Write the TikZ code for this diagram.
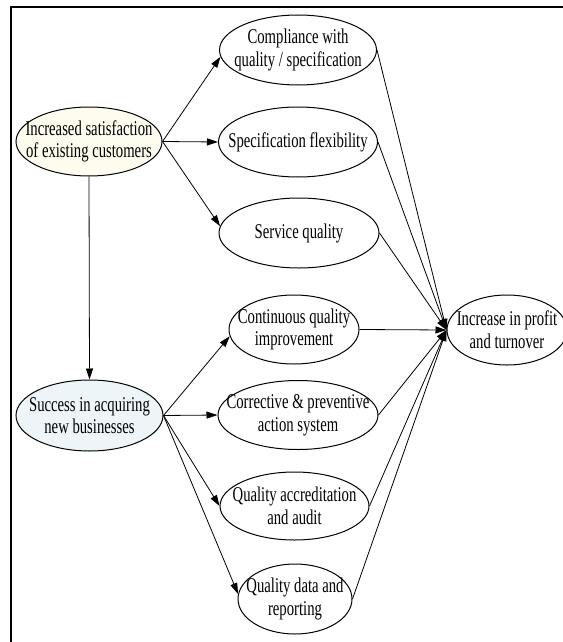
\documentclass[tikz,border=0pt]{standalone}
\usepackage{fontspec}
\setmainfont{Liberation Serif}[FakeStretch=0.70]
\usetikzlibrary{shapes.geometric,arrows.meta}
\definecolor{cream}{HTML}{FDFCEE}
\definecolor{paleblue}{HTML}{EDF5F9}

\begin{document}
\begin{tikzpicture}[x=1pt,y=-1pt,
  bubble/.style={ellipse, draw, line width=1pt, inner sep=0pt},
  caption/.style={align=center, font=\fontsize{21}{22.7}\selectfont, inner sep=0pt},
  link/.style={line width=0.8pt},
  arrowlink/.style={link, -{Triangle[length=11pt,width=7pt]}}]
\useasboundingbox (0,0) rectangle (562,642);

% outer frame (left and top edges)
\draw[line width=1.6pt] (10.7,660) -- (10.7,7.3) -- (580,7.3);

% ellipses
\node[bubble, minimum width=157pt, minimum height=70pt] (comp) at (298,50) {};
\node[bubble, fill=cream, minimum width=146pt, minimum height=69pt] (inc) at (89,141.5) {};
\node[bubble, minimum width=159pt, minimum height=70pt] (flex) at (298,142) {};
\node[bubble, minimum width=160pt, minimum height=70pt] (serv) at (299,233) {};
\node[bubble, minimum width=130pt, minimum height=69pt] (cont) at (294,329.5) {};
\node[bubble, fill=paleblue, minimum width=147pt, minimum height=71pt] (succ) at (89.5,415.5) {};
\node[bubble, minimum width=160pt, minimum height=69pt] (corr) at (298,415) {};
\node[bubble, minimum width=149pt, minimum height=68pt] (acc) at (294.5,506) {};
\node[bubble, minimum width=114pt, minimum height=70pt] (data) at (295,599) {};
\node[bubble, minimum width=120pt, minimum height=70pt] (profit) at (507,330) {};

% labels
\node[caption] (comp-t) at (comp) {Compliance with\\quality / specification};
\node[caption] (inc-t) at (inc) {Increased satisfaction\\of existing customers};
\node[caption] (flex-t) at (flex) {Specification flexibility};
\node[caption] (serv-t) at (serv) {Service quality};
\node[caption] (cont-t) at (cont) {Continuous quality\\improvement};
\node[caption] (succ-t) at (succ) {Success in acquiring\\new businesses};
\node[caption] (corr-t) at (corr) {Corrective \& preventive\\action system};
\node[caption] (acc-t) at (acc) {Quality accreditation\\and audit};
\node[caption] (data-t) at (data) {Quality data and\\reporting};
\node[caption] (profit-t) at (profit) {Increase in profit\\and turnover};

% connectors
\draw[arrowlink] (inc.east) -- (comp.185);
\draw[arrowlink] (inc.east) -- (flex.west);
\draw[arrowlink] (inc.east) -- (serv.175);
\draw[arrowlink] (inc.south) -- (succ.north);
\draw[arrowlink] (succ.east) -- (cont.186);
\draw[arrowlink] (succ.east) -- (corr.west);
\draw[arrowlink] (succ.east) -- (acc.west);
\draw[arrowlink] (succ.east) -- (data.175);
\foreach \n in {comp,flex,serv,cont,corr,acc,data}
  \draw[arrowlink] (\n.east) -- (profit.west);
\end{tikzpicture}
\end{document}
